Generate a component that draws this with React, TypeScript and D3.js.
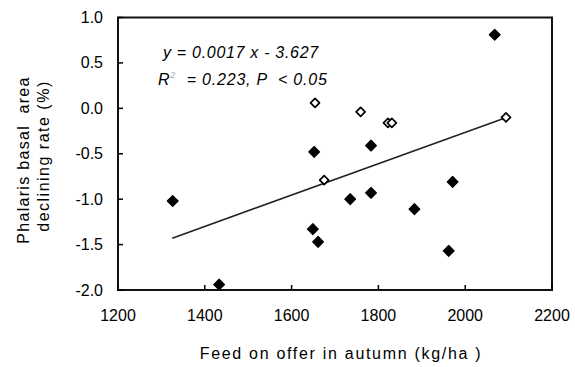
import React, { useEffect, useRef } from 'react'
import * as d3 from 'd3'

// Feed on offer (kg/ha) vs Phalaris basal area declining rate (%)
const filledX = [1326, 1433, 1652, 1649, 1661, 1735, 1783, 1783, 1883, 1962, 1971, 2068]
const filledY = [-1.02, -1.94, -0.48, -1.33, -1.47, -1.0, -0.41, -0.93, -1.11, -1.57, -0.81, 0.81]
const openX = [1654, 1675, 1759, 1822, 1831, 2094]
const openY = [0.06, -0.79, -0.04, -0.16, -0.16, -0.1]

// fitted line end points as drawn
const trendX = [1325, 2095]
const trendY = [-1.43, -0.1]

const xTicks = [1200, 1400, 1600, 1800, 2000, 2200]
const yTicks = [1.0, 0.5, 0.0, -0.5, -1.0, -1.5, -2.0]

const eqLine1 = 'y = 0.0017 x - 3.627'
const xTitle = 'Feed on offer in autumn (kg/ha )'
const yTitle1 = 'Phalaris basal  area'
const yTitle2 = 'declining rate (%)'

const width = 575
const height = 367

const App = () => {
  const svgRef = useRef<SVGSVGElement>(null)

  useEffect(() => {
    const svg = d3.select(svgRef.current)
    svg.selectAll('*').remove()

    const x = d3.scaleLinear().domain([1200, 2200]).range([118, 552])
    const y = d3.scaleLinear().domain([-2, 1]).range([290, 17.5])
    const font = 'Arial, "Liberation Sans", sans-serif'
    const ink = '#000'

    // trend line (under the markers)
    const line = d3.line<number>()
      .x((d) => x(trendX[d]))
      .y((d) => y(trendY[d]))
    svg.append('path')
      .datum([0, 1])
      .attr('d', line)
      .attr('fill', 'none')
      .attr('stroke', '#222')
      .attr('stroke-width', 1.6)

    const diamond = (r: number) => `M0,${-r}L${r},0L0,${r}L${-r},0Z`

    svg.selectAll('.filled')
      .data(filledX.map((v, i) => [v, filledY[i]]))
      .enter().append('path')
      .attr('class', 'filled')
      .attr('d', diamond(5.4))
      .attr('transform', (d) => `translate(${x(d[0])},${y(d[1])})`)
      .attr('fill', ink)
      .attr('stroke', ink)
      .attr('stroke-width', 1.2)
      .attr('stroke-linejoin', 'round')

    svg.selectAll('.open')
      .data(openX.map((v, i) => [v, openY[i]]))
      .enter().append('path')
      .attr('class', 'open')
      .attr('d', diamond(4.5))
      .attr('transform', (d) => `translate(${x(d[0])},${y(d[1])})`)
      .attr('fill', '#fff')
      .attr('stroke', ink)
      .attr('stroke-width', 1.7)
      .attr('stroke-linejoin', 'round')

    // frame
    svg.append('rect')
      .attr('x', x(1200))
      .attr('y', y(1))
      .attr('width', x(2200) - x(1200))
      .attr('height', y(-2) - y(1))
      .attr('fill', 'none')
      .attr('stroke', '#111')
      .attr('stroke-width', 2)

    // inward ticks
    svg.selectAll('.ytick')
      .data(yTicks)
      .enter().append('line')
      .attr('x1', x(1200))
      .attr('x2', x(1200) + 5)
      .attr('y1', (d) => y(d))
      .attr('y2', (d) => y(d))
      .attr('stroke', ink)
      .attr('stroke-width', 1.5)

    svg.selectAll('.xtick')
      .data(xTicks)
      .enter().append('line')
      .attr('x1', (d) => x(d))
      .attr('x2', (d) => x(d))
      .attr('y1', y(-2))
      .attr('y2', y(-2) - 5)
      .attr('stroke', ink)
      .attr('stroke-width', 1.5)

    // tick labels
    svg.selectAll('.ylab')
      .data(yTicks)
      .enter().append('text')
      .attr('x', 103)
      .attr('y', (d) => y(d) + 5.5)
      .attr('text-anchor', 'end')
      .style('font-family', font)
      .style('font-size', '16px')
      .style('fill', ink)
      .text((d) => d3.format('.1f')(d).replace('−', '-'))

    svg.selectAll('.xlab')
      .data(xTicks)
      .enter().append('text')
      .attr('x', (d) => x(d))
      .attr('y', 321)
      .attr('text-anchor', 'middle')
      .style('font-family', font)
      .style('font-size', '16px')
      .style('fill', ink)
      .text((d) => d)

    // equation
    svg.append('text')
      .attr('x', 163)
      .attr('y', 58)
      .style('font-family', font)
      .style('font-size', '16px')
      .style('font-style', 'italic')
      .style('letter-spacing', '0.7px')
      .style('fill', ink)
      .text(eqLine1)

    const eq2 = svg.append('text')
      .attr('x', 158)
      .attr('y', 85)
      .style('font-family', font)
      .style('font-size', '16px')
      .style('font-style', 'italic')
      .style('letter-spacing', '0.8px')
      .style('white-space', 'pre')
      .style('fill', ink)
    eq2.append('tspan').text('R')
    eq2.append('tspan').attr('dy', -7).style('font-size', '9px').style('fill', '#aaa').text('2')
    eq2.append('tspan').attr('dy', 7).text('  = 0.223, ')
    eq2.append('tspan').text('P')
    eq2.append('tspan').text('  < 0.05')

    // axis titles
    svg.append('text')
      .attr('x', 341)
      .attr('y', 359)
      .attr('text-anchor', 'middle')
      .style('font-family', font)
      .style('font-size', '16px')
      .style('letter-spacing', '1.7px')
      .style('fill', ink)
      .text(xTitle)

    svg.append('text')
      .attr('transform', 'translate(29,160) rotate(-90)')
      .attr('text-anchor', 'middle')
      .style('font-family', font)
      .style('font-size', '16px')
      .style('letter-spacing', '1.3px')
      .style('white-space', 'pre')
      .style('fill', ink)
      .text(yTitle1)

    svg.append('text')
      .attr('transform', 'translate(49,156) rotate(-90)')
      .attr('text-anchor', 'middle')
      .style('font-family', font)
      .style('font-size', '16px')
      .style('letter-spacing', '1.5px')
      .style('fill', ink)
      .text(yTitle2)
  }, [])

  return (
    <svg
      ref={svgRef}
      width={width}
      height={height}
      style={{ position: 'absolute', left: 0, top: 0, background: '#fff' }}
    ></svg>
  )
}

export default App
